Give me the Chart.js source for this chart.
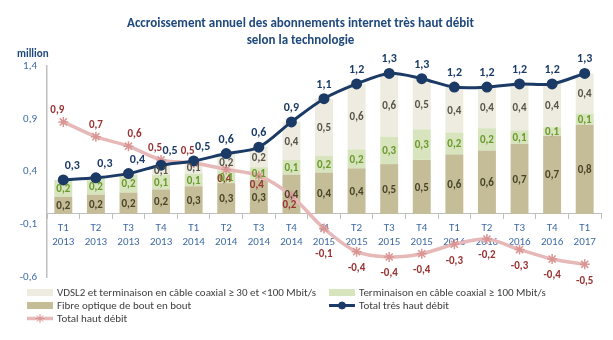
<!DOCTYPE html>
<html>
<head>
<meta charset="utf-8">
<script src="https://cdn.jsdelivr.net/npm/chart.js@4.4.1/dist/chart.umd.min.js"></script>
<style>
  html, body { margin: 0; padding: 0; background: #fff; }
  #wrap { width: 613px; height: 340px; }
</style>
</head>
<body>
<div id="wrap"><canvas id="myChart" width="613" height="340"></canvas></div>
<script>
// trimestres
var labels = [['T1','2013'],['T2','2013'],['T3','2013'],['T4','2013'],
              ['T1','2014'],['T2','2014'],['T3','2014'],['T4','2014'],
              ['T1','2015'],['T2','2015'],['T3','2015'],['T4','2015'],
              ['T1','2016'],['T2','2016'],['T3','2016'],['T4','2016'],
              ['T1','2017']];

// accroissement annuel, en millions
var fibre = [0.16, 0.18, 0.20, 0.23, 0.26, 0.29, 0.32, 0.37, 0.39, 0.43, 0.47, 0.51, 0.56, 0.60, 0.66, 0.74, 0.84];
var coax100 = [0.16, 0.16, 0.17, 0.14, 0.12, 0.12, 0.12, 0.14, 0.16, 0.18, 0.26, 0.29, 0.21, 0.21, 0.13, 0.08, 0.11];
var vdsl = [0.00, 0.00, 0.01, 0.09, 0.12, 0.16, 0.19, 0.36, 0.54, 0.62, 0.60, 0.48, 0.43, 0.39, 0.44, 0.41, 0.38];
var totalTHD = [0.32, 0.34, 0.38, 0.46, 0.50, 0.57, 0.63, 0.87, 1.09, 1.23, 1.33, 1.28, 1.20, 1.20, 1.23, 1.23, 1.33];
var totalHD = [0.87, 0.73, 0.64, 0.51, 0.48, 0.42, 0.36, 0.17, -0.14, -0.36, -0.41, -0.38, -0.29, -0.24, -0.34, -0.43, -0.48];

var yTicks = [-0.6, -0.1, 0.4, 0.9, 1.4];

var FONT = 'Carlito, Lato, sans-serif';

function fmt(v) {
    return v.toFixed(1).replace('.', ',');
}

// etiquettes de valeurs (pas de plugin datalabels dispo)
var valueLabels = {
    id: 'valueLabels',
    afterDatasetsDraw: function(chart) {
        var ctx = chart.ctx;
        var zeroY = chart.scales.y.getPixelForValue(0);
        ctx.save();
        ctx.textAlign = 'center';
        chart.data.datasets.forEach(function(ds, i) {
            var meta = chart.getDatasetMeta(i);
            meta.data.forEach(function(el, j) {
                var v = ds.data[j];
                if (Math.abs(v) < 0.05) return;
                ctx.fillStyle = ds.labelColor;
                if (ds.type === 'bar') {
                    ctx.font = 'bold 11px ' + FONT;
                    ctx.textBaseline = 'middle';
                    ctx.fillText(fmt(v), el.x, (el.y + el.base) / 2 + 1);
                } else if (ds.key === 'thd') {
                    ctx.font = 'bold 12px ' + FONT;
                    ctx.textBaseline = 'bottom';
                    var dx = j < 5 ? 9 : 0;
                    ctx.fillText(fmt(v), el.x + dx, el.y - 8);
                } else {
                    ctx.font = 'bold 11px ' + FONT;
                    if (j < 5) {
                        ctx.textBaseline = 'bottom';
                        var dx2 = (j === 0 || j === 3 || j === 4) ? -6 : (j === 2 ? 6 : 0);
                        ctx.fillText(fmt(v), el.x + dx2, el.y - 6);
                    } else if (v > 0) {
                        ctx.textBaseline = 'top';
                        ctx.fillText(fmt(v), el.x - 2, el.y + 4);
                    } else {
                        // sous les libellés de l'axe
                        ctx.textBaseline = 'top';
                        ctx.fillText(fmt(v), el.x, Math.max(el.y + 11, zeroY + 35));
                    }
                }
            });
        });
        ctx.restore();
    }
};

// "million" + légende sur deux colonnes
var extras = {
    id: 'extras',
    afterDraw: function(chart) {
        var ctx = chart.ctx;
        ctx.save();
        ctx.font = 'bold 11px ' + FONT;
        ctx.fillStyle = '#1F497D';
        ctx.textAlign = 'left';
        ctx.textBaseline = 'middle';
        ctx.fillText('million', 17, 54);

        var ds = chart.data.datasets;
        var slots = [[27, 292.5], [329, 292.5], [27, 305.5], [329, 305.5], [27, 318.5]];
        ctx.font = '11px ' + FONT;
        ds.forEach(function(d) {
            var p = slots[d.legendPos];
            var x = p[0], y = p[1];
            if (d.type === 'bar') {
                ctx.fillStyle = d.backgroundColor;
                ctx.fillRect(x, y - 3.5, 26, 7);
            } else {
                ctx.strokeStyle = d.borderColor;
                ctx.lineWidth = d.borderWidth;
                ctx.beginPath();
                ctx.moveTo(x, y);
                ctx.lineTo(x + 26, y);
                ctx.stroke();
                ctx.fillStyle = d.pointBackgroundColor;
                ctx.strokeStyle = d.pointBorderColor;
                ctx.lineWidth = 1;
                Chart.helpers.drawPoint(ctx, { pointStyle: d.pointStyle, radius: d.pointStyle === 'star' ? 4.5 : 3.5, borderWidth: 1 }, x + 13, y);
            }
            ctx.fillStyle = '#404040';
            ctx.fillText(d.label, x + 30, y + 1);
        });
        ctx.restore();
    }
};

var ctx = document.getElementById('myChart').getContext('2d');
var myChart = new Chart(ctx, {
    data: {
        labels: labels,
        datasets: [{
            type: 'line',
            key: 'thd',
            label: 'Total très haut débit',
            data: totalTHD,
            stack: 'thd',
            order: 0,
            legendPos: 3,
            borderColor: '#1B3A66',
            backgroundColor: '#1B3A66',
            borderWidth: 3,
            tension: 0.3,
            pointStyle: 'circle',
            pointRadius: 4,
            pointBackgroundColor: '#1B3A66',
            pointBorderColor: '#1B3A66',
            labelColor: '#1B3A66'
        }, {
            type: 'line',
            key: 'hd',
            label: 'Total haut débit',
            data: totalHD,
            stack: 'hd',
            order: 1,
            legendPos: 4,
            borderColor: '#E6B9B8',
            backgroundColor: '#E6B9B8',
            borderWidth: 3.5,
            tension: 0.3,
            pointStyle: 'star',
            pointRadius: 5,
            pointBorderWidth: 1.5,
            pointBackgroundColor: '#D99694',
            pointBorderColor: '#D99694',
            labelColor: '#983232'
        }, {
            type: 'bar',
            label: 'Fibre optique de bout en bout',
            data: fibre,
            order: 2,
            legendPos: 2,
            backgroundColor: '#C4BD97',
            labelColor: '#494429',
            categoryPercentage: 0.55,
            barPercentage: 1
        }, {
            type: 'bar',
            label: 'Terminaison en câble coaxial ≥ 100 Mbit/s',
            data: coax100,
            order: 2,
            legendPos: 1,
            backgroundColor: '#D7E4BD',
            labelColor: '#6A9A2C',
            categoryPercentage: 0.55,
            barPercentage: 1
        }, {
            type: 'bar',
            label: 'VDSL2 et terminaison en câble coaxial ≥ 30 et <100 Mbit/s',
            data: vdsl,
            order: 2,
            legendPos: 0,
            backgroundColor: '#EEECE1',
            labelColor: '#57534A',
            categoryPercentage: 0.55,
            barPercentage: 1
        }]
    },
    options: {
        responsive: false,
        animation: false,
        layout: {
            padding: { left: 0, right: 12, top: 0, bottom: 63 }
        },
        plugins: {
            legend: { display: false },
            tooltip: { enabled: false },
            title: {
                display: true,
                text: ['Accroissement annuel des abonnements internet très haut débit', 'selon la technologie'],
                color: '#1F497D',
                font: { family: FONT, size: 13, weight: 'bold', lineHeight: 1.25 },
                padding: { top: 16, bottom: 17.5 }
            }
        },
        scales: {
            x: {
                stacked: true,
                position: { y: 0 },
                afterFit: function(scale) { scale.height = 0; },
                grid: {
                    offset: true,
                    drawOnChartArea: false,
                    tickLength: 5,
                    color: '#BFBFBF'
                },
                border: { color: '#BFBFBF', width: 1 },
                ticks: {
                    color: '#3F6AA6',
                    font: { family: FONT, size: 11, lineHeight: 1.25 },
                    padding: 3,
                    maxRotation: 0,
                    autoSkip: false
                }
            },
            y: {
                stacked: true,
                min: -0.6,
                max: 1.4,
                afterFit: function(scale) { scale.width = 47; },
                afterBuildTicks: function(scale) {
                    scale.ticks = yTicks.map(function(v) { return { value: v }; });
                },
                grid: { display: false, drawTicks: false },
                border: { color: '#BFBFBF', width: 1.5 },
                ticks: {
                    color: '#3F6AA6',
                    font: { family: FONT, size: 11 },
                    padding: 10,
                    callback: function(v) { return fmt(v); }
                }
            }
        }
    },
    plugins: [valueLabels, extras]
});
</script>
</body>
</html>
